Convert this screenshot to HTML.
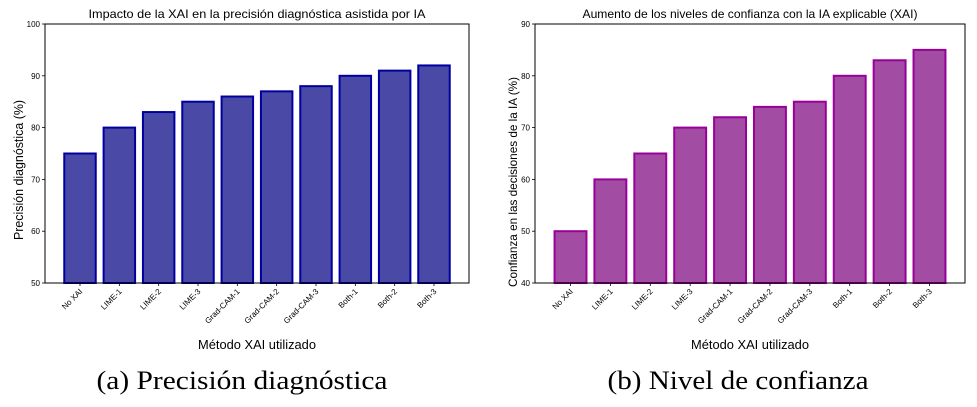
<!DOCTYPE html>
<html><head><meta charset="utf-8"><style>
body{margin:0;background:#fff;width:977px;height:402px;overflow:hidden}
svg text{font-family:"Liberation Sans",sans-serif}
</style></head><body>
<svg id="s" width="977" height="402" xmlns="http://www.w3.org/2000/svg">
<text x="242" y="389" text-anchor="middle" style="font-family:'Liberation Serif',serif" font-size="26" textLength="291" lengthAdjust="spacingAndGlyphs">(a) Precisión diagnóstica</text>
<text x="738" y="389" text-anchor="middle" style="font-family:'Liberation Serif',serif" font-size="26" textLength="261" lengthAdjust="spacingAndGlyphs">(b) Nivel de confianza</text>
</svg>
<script>
const categories=["No XAI","LIME-1","LIME-2","LIME-3","Grad-CAM-1","Grad-CAM-2","Grad-CAM-3","Both-1","Both-2","Both-3"];
const precisionValues=[75,80,83,85,86,87,88,90,91,92];
const confidenceValues=[50,60,65,70,72,74,75,80,83,85];
const precisionTicks=[50,60,70,80,90,100];
const confidenceTicks=[40,50,60,70,80,90];
const NS="http://www.w3.org/2000/svg";
const svg=document.getElementById('s');
function mk(tag,attrs,parent){const e=document.createElementNS(NS,tag);for(const k in attrs)e.setAttribute(k,attrs[k]);(parent||svg).appendChild(e);return e;}
function chart(cfg){
  const g=mk('g',{});
  
  
  const x0=cfg.x0,x1=cfg.x1,y0=24,y1=283;
  const n=cfg.values.length;
  const ux=(x1-x0)/(n-1+0.8+0.98);
  const xs=i=>x0+(i+0.89)*ux;
  const ymin=cfg.ticks[0],ymax=cfg.ticks[cfg.ticks.length-1];
  const ys=v=>y1-(v-ymin)/(ymax-ymin)*(y1-y0);
  cfg.values.forEach((v,i)=>{
    const r=mk('rect',{x:xs(i)-0.4*ux,y:ys(v),width:0.8*ux,height:y1-ys(v),fill:cfg.fill,stroke:cfg.edge,'stroke-width':2},g);
    
    
    mk('line',{x1:xs(i),x2:xs(i),y1:y1,y2:y1+3,stroke:'#000','stroke-width':0.8},g);
    const t=mk('text',{x:0,y:0,'font-size':8,'text-anchor':'end',transform:`translate(${xs(i)+3},${y1+9}) rotate(-45)`},g);
    t.textContent=categories[i];
    
    
  });
  const box=mk('rect',{x:x0,y:y0,width:x1-x0,height:y1-y0,fill:'none',stroke:'#000','stroke-width':1},g);
  
  
  cfg.ticks.forEach(tv=>{
    mk('line',{x1:x0-3,x2:x0,y1:ys(tv),y2:ys(tv),stroke:'#000','stroke-width':0.8},g);
    const t=mk('text',{x:x0-5,y:ys(tv)+3,'font-size':8,'text-anchor':'end'},g);
    t.textContent=tv;
    
    
  });
  const ti=mk('text',{x:(x0+x1)/2,y:18,'font-size':12,'text-anchor':'middle',textLength:cfg.tlen,lengthAdjust:'spacingAndGlyphs'},g);
  ti.textContent=cfg.title;
  
  
  const xl=mk('text',{x:(x0+x1)/2,y:349,'font-size':12.5,'text-anchor':'middle',textLength:118,lengthAdjust:'spacingAndGlyphs'},g);
  xl.textContent='Método XAI utilizado';
  
  
  const yl=mk('text',{x:0,y:0,'font-size':cfg.ylfs,'text-anchor':'middle',textLength:cfg.yllen,lengthAdjust:'spacingAndGlyphs',transform:`translate(${cfg.ylx},${cfg.ylc}) rotate(-90)`},g);
  yl.textContent=cfg.ylabel;
  
  
}
chart({name:'precision-chart',x0:45,x1:469,values:precisionValues,ticks:precisionTicks,fill:'#4a4aa6',edge:'#0000a0',title:'Impacto de la XAI en la precisión diagnóstica asistida por IA',tlen:337,ylabel:'Precisión diagnóstica (%)',ylx:23,ylc:170,ylfs:12.5,yllen:140});
chart({name:'confidence-chart',x0:535,x1:965,values:confidenceValues,ticks:confidenceTicks,fill:'#a34ca3',edge:'#990099',title:'Aumento de los niveles de confianza con la IA explicable (XAI)',tlen:335,ylabel:'Confianza en las decisiones de la IA (%)',ylx:517,ylc:182,ylfs:12,yllen:210});
</script>
</body></html>
